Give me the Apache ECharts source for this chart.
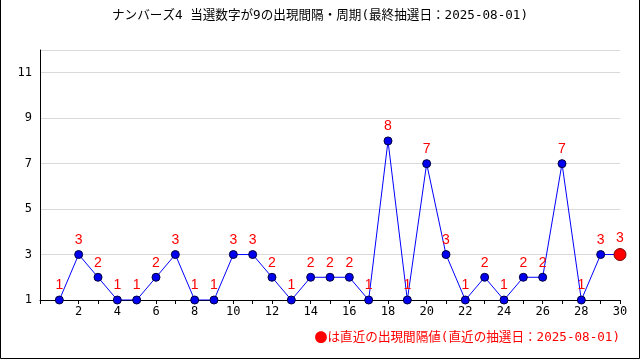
<!DOCTYPE html>
<html><head><meta charset="utf-8">
<script src="https://cdn.jsdelivr.net/npm/echarts@6/dist/echarts.min.js"></script>
<style>html,body{margin:0;padding:0;background:#fff}#c{width:640px;height:360px}</style>
</head><body><div id="c"></div>
<script>
const titleText = 'ナンバーズ4 当選数字が9の出現間隔・周期(最終抽選日：2025-08-01)';
const noteMark = '●';
const noteText = 'は直近の出現間隔値(直近の抽選日：2025-08-01)';
const draws = [1,2,3,4,5,6,7,8,9,10,11,12,13,14,15,16,17,18,19,20,21,22,23,24,25,26,27,28,29,30];
const intervals = [1,3,2,1,1,2,3,1,1,3,3,2,1,2,2,2,1,8,1,7,3,1,2,1,2,2,7,1,3,3];
const yTicks = [1,3,5,7,9,11];

const font = '"DejaVu Sans Mono", "Noto Sans CJK JP", monospace';
const cjkFont = '"Noto Sans CJK JP", sans-serif';
const labelFont = '"Liberation Sans", Arial, sans-serif';
const pts = draws.map((d,i)=>[d, intervals[i]]);
const last = pts.length - 1;
const data = pts.map((p,i)=> i===last ? {value:p, symbolSize:12, itemStyle:{color:'#ff0000', borderColor:'#800000', borderWidth:1}} : {value:p});

const chart = echarts.init(document.getElementById('c'), null, {renderer:'canvas'});
chart.setOption({
  animation:false,
  backgroundColor:'#fff',
  title:{text:titleText, left:'center', top:4, textStyle:{fontSize:12.6, fontWeight:'normal', color:'#000', fontFamily:font}},
  grid:{left:40, right:20, top:50, bottom:60, containLabel:false},
  xAxis:{type:'value', min:0, max:30, interval:1,
    axisLine:{lineStyle:{color:'#000', width:1}},
    axisTick:{show:true, length:4, lineStyle:{color:'#000'}},
    axisLabel:{color:'#000', fontSize:12, fontFamily:font, margin:6,
      formatter:v=> (v>0 && v%2===0) ? String(v) : ''},
    splitLine:{show:false}},
  yAxis:{type:'value', min:1, max:12, interval:2,
    axisLine:{show:true, lineStyle:{color:'#000', width:1}},
    axisTick:{show:false},
    axisLabel:{color:'#000', fontSize:12, fontFamily:font, margin:8,
      formatter:v=> yTicks.includes(v) ? String(v) : '', showMaxLabel:false},
    splitLine:{show:true, lineStyle:{color:'#d9d9d9', width:1}}},
  series:[{type:'line', data:data, symbol:'circle', symbolSize:8,
    lineStyle:{color:'#0000ff', width:1},
    itemStyle:{color:'#0000ee', borderColor:'#000040', borderWidth:1},
    label:{show:true, position:'top', distance:3, color:'#ff0000', fontSize:14, fontFamily:labelFont,
      formatter:p=>String(p.value[1])}}],
  graphic:[
    {type:'text', right:20, top:331, style:{
      text:'{m|' + noteMark + '}{t|' + noteText + '}',
      rich:{
        m:{fill:'#ff0000', fontSize:13, fontFamily:cjkFont},
        t:{fill:'#ff0000', fontSize:12.6, fontFamily:font}
      }}},
    {type:'polyline', shape:{points:[[0.5,0],[0.5,358.5],[639.5,358.5],[639.5,0]]}, style:{stroke:'#000', lineWidth:1, fill:null}}
  ]
});
</script></body></html>
